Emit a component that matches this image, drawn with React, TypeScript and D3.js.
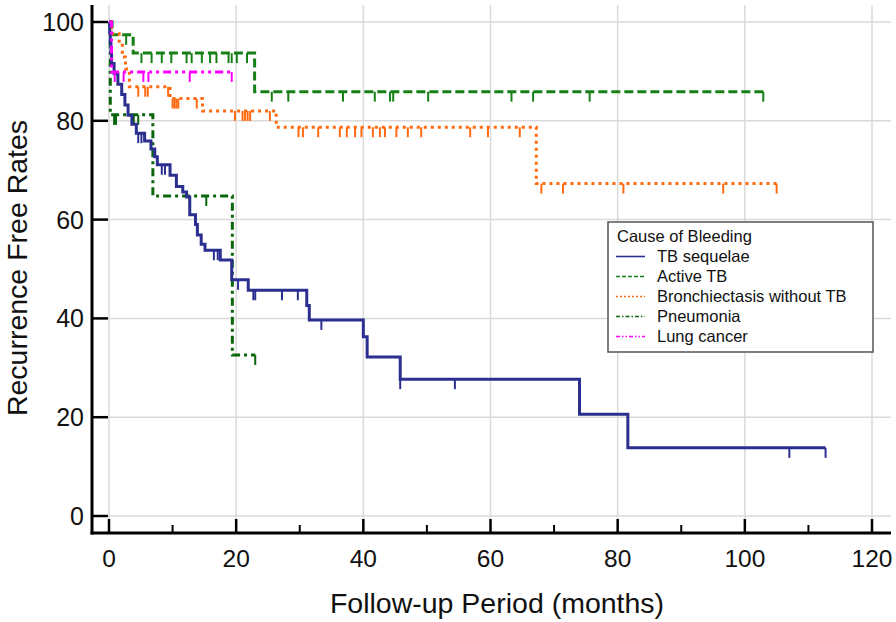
import React from "react";
import * as d3 from "d3";

// axis ticks
const monthTicks = [0, 20, 40, 60, 80, 100, 120];
const monthMinor = [10, 30, 50, 70, 90, 110];
const rateTicks = [0, 20, 40, 60, 80, 100];

const legendTitle = "Cause of Bleeding";
const causes = ["TB sequelae", "Active TB", "Bronchiectasis without TB", "Pneumonia", "Lung cancer"];

// TB sequelae
const seqTime = [0, 0.1, 0.2, 0.3, 0.4, 0.8, 1.4, 2.0, 2.5, 3.0, 3.6, 4.3, 5.6, 6.6, 7.2, 7.6, 9.6, 10.6, 11.6, 12.2, 12.7, 13.6, 13.9, 14.5, 15.1, 17.5, 19.3, 21.9, 31.1, 31.5, 40.0, 40.6, 45.8, 74.0, 81.6, 112.7];
const seqRate = [100, 97.9, 95.8, 93.7, 91.6, 89.5, 87.4, 85.3, 83.2, 81.1, 79.3, 77.5, 75.9, 74.3, 72.7, 71.1, 69.0, 66.7, 65.6, 64.6, 61.0, 59.0, 56.9, 55.0, 53.8, 51.8, 47.8, 45.7, 42.6, 39.7, 36.3, 32.2, 27.7, 20.6, 13.8, 13.8];
const seqCensor = [4.6, 5.1, 8.3, 8.8, 16.5, 17.1, 20.3, 22.7, 23.0, 27.2, 29.7, 33.4, 45.8, 54.4, 107, 112.7];

// Active TB
const actTime = [0, 0.5, 3.8, 22.9, 102.9];
const actRate = [100, 97.4, 93.7, 85.9, 85.9];
const actCensor = [2.7, 5.1, 6.7, 8.3, 9.8, 12.2, 13.0, 14.6, 15.9, 16.9, 18.8, 19.3, 20.1, 21.7, 25.6, 28.2, 36.8, 41.8, 44.2, 44.7, 50.2, 63.3, 66.7, 75.6, 102.9];

// Bronchiectasis without TB
const broTime = [0, 0.4, 1.6, 2.1, 2.6, 3.2, 9.6, 14.7, 26.3, 67.2, 105];
const broRate = [100, 97.6, 95.3, 92.9, 90.5, 86.9, 84.5, 82.0, 78.7, 67.3, 67.3];
const broCensor = [4.6, 5.7, 6.1, 9.3, 10.0, 10.3, 10.6, 10.9, 13.8, 19.8, 21.0, 21.4, 21.8, 22.2, 25.3, 29.8, 30.5, 32.9, 36.3, 37.4, 38.7, 39.7, 41.5, 42.6, 43.4, 45.2, 47.0, 49.1, 56.8, 59.6, 64.6, 68.0, 71.4, 80.9, 96.6, 105];

// Pneumonia
const pneTime = [0, 0.2, 6.9, 19.4, 23];
const pneRate = [100, 81.2, 64.8, 32.6, 32.6];
const pneCensor = [0.8, 1.1, 3.9, 4.6, 12.7, 15.3, 23];

// Lung cancer
const lcaTime = [0, 0.4, 19.3];
const lcaRate = [100, 89.9, 89.9];
const lcaCensor = [0.9, 2.3, 5.4, 6.2, 12.7, 19.3];

const styles = [
  { color: "#2b2f8f", dash: null, legendDash: null },
  { color: "#168016", dash: "9 4", legendDash: "4 2" },
  { color: "#ff6a10", dash: "3 4", legendDash: "2 2" },
  { color: "#0b660b", dash: "8 4 3 4", legendDash: "4 2 1.5 2" },
  { color: "#ff00ff", dash: "8 4 3 4 3 4", legendDash: "4 2 1.5 2 1.5 2" },
];

const series = [
  { time: seqTime, rate: seqRate, censor: seqCensor },
  { time: actTime, rate: actRate, censor: actCensor },
  { time: broTime, rate: broRate, censor: broCensor },
  { time: pneTime, rate: pneRate, censor: pneCensor },
  { time: lcaTime, rate: lcaRate, censor: lcaCensor },
];

const W = 896;
const H = 622;
const font = "'Liberation Sans', Arial, sans-serif";

export default function App() {
  const x = d3.scaleLinear().domain([0, 120]).range([109, 872]);
  const y = d3.scaleLinear().domain([0, 100]).range([516, 22]);

  const axisX = 92;
  const axisY = 533;
  const top = 5;
  const right = 891;

  const line = d3
    .line<[number, number]>()
    .x((d) => x(d[0]))
    .y((d) => y(d[1]))
    .curve(d3.curveStepAfter);

  // survival value in effect at a censoring time
  const rateAt = (s: { time: number[]; rate: number[] }, t: number) =>
    s.rate[Math.max(0, d3.bisectRight(s.time, t) - 1)];

  const drawOrder = [3, 1, 2, 0, 4];

  return (
    <div style={{ position: "absolute", left: 0, top: 0 }}>
      <svg width={W} height={H} style={{ display: "block", background: "#fff" }} fontFamily={font}>
        {/* grid */}
        {monthTicks.map((m) => (
          <line key={"gx" + m} x1={x(m)} x2={x(m)} y1={top} y2={axisY} stroke="#dadada" strokeWidth={1.5} />
        ))}
        {rateTicks.map((r) => (
          <line key={"gy" + r} x1={axisX} x2={right} y1={y(r)} y2={y(r)} stroke="#dadada" strokeWidth={1.5} />
        ))}

        {/* curves */}
        {drawOrder.map((i) => {
          const s = series[i];
          const st = styles[i];
          const pts = s.time.map((t, k) => [t, s.rate[k]] as [number, number]);
          return (
            <g key={"s" + i}>
              <path
                d={line(pts) || ""}
                fill="none"
                stroke={st.color}
                strokeWidth={3}
                strokeDasharray={st.dash || undefined}
              />
              {s.censor.map((c, k) => {
                const yy = y(rateAt(s, c));
                return (
                  <line key={k} x1={x(c)} x2={x(c)} y1={yy} y2={yy + 10} stroke={st.color} strokeWidth={2} />
                );
              })}
            </g>
          );
        })}

        {/* axes */}
        <line x1={axisX} x2={axisX} y1={top} y2={axisY + 1.5} stroke="#000" strokeWidth={3} />
        <line x1={axisX - 1.5} x2={right} y1={axisY} y2={axisY} stroke="#000" strokeWidth={3} />
        {rateTicks.map((r) => (
          <g key={"yt" + r}>
            <line x1={axisX} x2={108} y1={y(r)} y2={y(r)} stroke="#000" strokeWidth={2.5} />
            <text x={84} y={y(r)} dy="0.36em" textAnchor="end" fontSize={25} fill="#111">
              {r}
            </text>
          </g>
        ))}
        {monthTicks.map((m) => (
          <g key={"xt" + m}>
            <line x1={x(m)} x2={x(m)} y1={axisY} y2={axisY - 14} stroke="#000" strokeWidth={2.5} />
            <text x={x(m)} y={567} textAnchor="middle" fontSize={24.5} fill="#111">
              {m}
            </text>
          </g>
        ))}
        {monthMinor.map((m) => (
          <line key={"xm" + m} x1={x(m)} x2={x(m)} y1={axisY} y2={axisY - 8} stroke="#000" strokeWidth={2} />
        ))}

        {/* axis titles */}
        <text x={497} y={613} textAnchor="middle" fontSize={28.5} fill="#111">
          Follow-up Period (months)
        </text>
        <text
          transform={`translate(27, 268) rotate(-90)`}
          textAnchor="middle"
          fontSize={28.5}
          fill="#111"
        >
          Recurrence Free Rates
        </text>

        {/* legend */}
        <g>
          <rect x={608} y={222} width={265} height={130} fill="#fff" stroke="#555" strokeWidth={1.5} />
          <text x={617} y={242} fontSize={16.5} fill="#111">
            {legendTitle}
          </text>
          {causes.map((c, i) => (
            <g key={c} transform={`translate(0, ${262 + i * 20})`}>
              <line
                x1={616}
                x2={645}
                y1={-5.5}
                y2={-5.5}
                stroke={styles[i].color}
                strokeWidth={1.6}
                strokeDasharray={styles[i].legendDash || undefined}
              />
              <text x={657} y={0} fontSize={16.5} fill="#111">
                {c}
              </text>
            </g>
          ))}
        </g>
      </svg>
    </div>
  );
}
